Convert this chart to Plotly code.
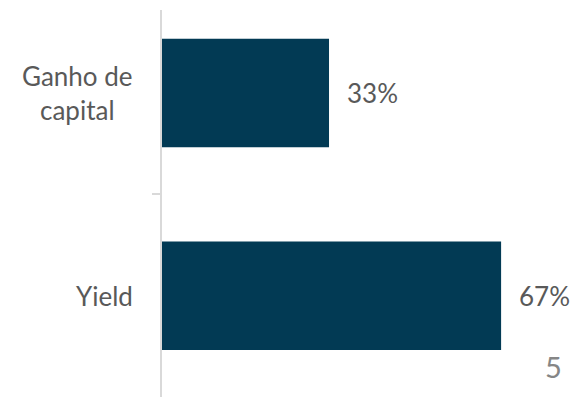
import plotly.graph_objects as go

categories = ["Ganho de capital", "Yield"]
category_labels = ["Ganho de<br>capital", "Yield"]
values = [33, 67]
value_labels = ["33%", "67%"]
page_number = "5"

BAR = "#023A54"
TXT = "#595959"
AX = "#D9D9D9"
FONT = "Lato"

fig = go.Figure()
fig.add_trace(go.Bar(
    y=categories, x=values, orientation="h",
    marker=dict(color=BAR, line=dict(width=0)),
    hoverinfo="skip",
))

for cat, lab in zip(categories, category_labels):
    fig.add_annotation(x=0, xref="paper", y=cat, yref="y", text=lab,
                       xanchor="right", yanchor="middle", xshift=-27,
                       align="center", showarrow=False,
                       font=dict(family=FONT, size=26, color=TXT))

for cat, v, lab in zip(categories, values, value_labels):
    fig.add_annotation(x=v, xref="x", y=cat, yref="y", text=lab,
                       xanchor="left", yanchor="middle", xshift=16,
                       showarrow=False,
                       font=dict(family=FONT, size=26, color=TXT))

fig.add_annotation(x=0.946, xref="paper", y=0.078, yref="paper", text=page_number,
                   xanchor="center", yanchor="middle", showarrow=False,
                   font=dict(family=FONT, size=29, color="#868686"))

fig.update_layout(
    width=576, height=397,
    margin=dict(l=162, r=0, t=10, b=0),
    paper_bgcolor="white", plot_bgcolor="white",
    bargap=0.4645,
    showlegend=False,
    xaxis=dict(range=[0, 81.8], visible=False, fixedrange=True),
    yaxis=dict(
        type="category", categoryorder="array", categoryarray=categories,
        range=[1.5, -0.41],
        showline=True, linecolor=AX, linewidth=2,
        ticks="outside", tickson="boundaries", ticklen=8, tickwidth=2, tickcolor=AX,
        showticklabels=False, showgrid=False, zeroline=False, fixedrange=True,
    ),
)

fig.write_html("out.html")
